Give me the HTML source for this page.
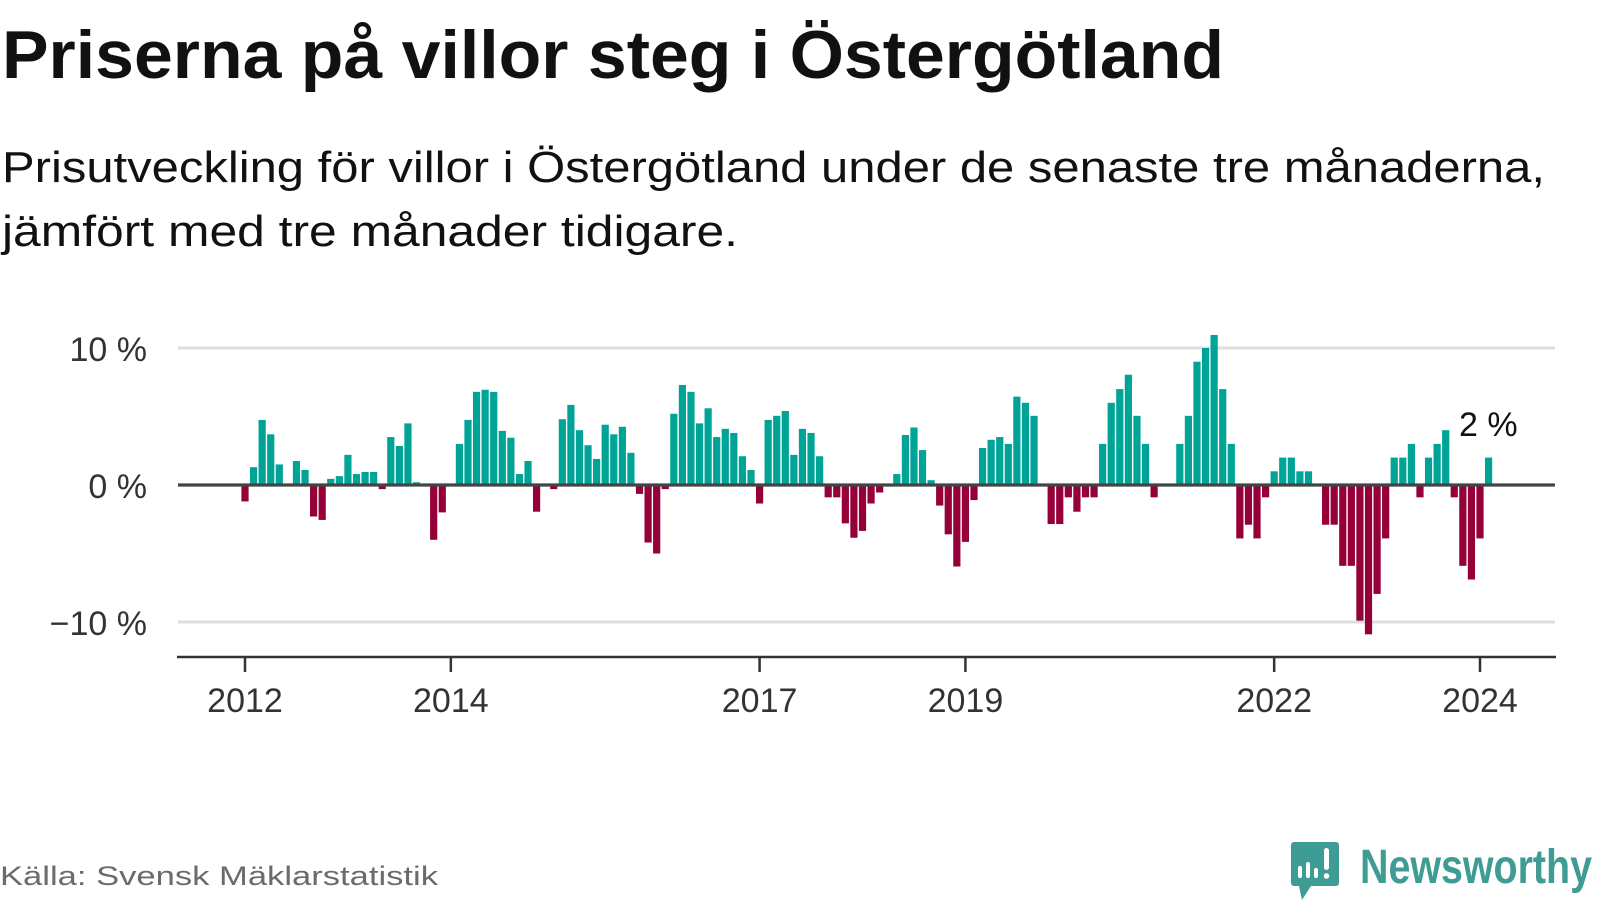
<!DOCTYPE html>
<html><head><meta charset="utf-8"><style>
html,body{margin:0;padding:0;background:#fff;}
svg{display:block;font-family:"Liberation Sans",sans-serif;}
</style></head><body>
<svg id="chart" width="1600" height="900" viewBox="0 0 1600 900">
<text x="2" y="78" font-size="68" font-weight="bold" fill="#111" textLength="1222" lengthAdjust="spacingAndGlyphs">Priserna på villor steg i Östergötland</text>
<text x="2" y="182" font-size="44" fill="#111" textLength="1543" lengthAdjust="spacingAndGlyphs">Prisutveckling för villor i Östergötland under de senaste tre månaderna,</text>
<text x="2" y="246" font-size="44" fill="#111" textLength="736" lengthAdjust="spacingAndGlyphs">jämfört med tre månader tidigare.</text>
<g id="grid"></g>
<g id="yticks"></g>
<g id="bars"></g>
<line x1="178" x2="1555" y1="485" y2="485" stroke="#444" stroke-width="3.3"/>
<line x1="177" x2="1556" y1="657" y2="657" stroke="#333" stroke-width="2.5"/>
<g id="xticks"></g>
<text x="1459" y="436" font-size="34" fill="#111">2 %</text>
<text x="0" y="885" font-size="27" fill="#6b6b6b" textLength="438" lengthAdjust="spacingAndGlyphs">Källa: Svensk Mäklarstatistik</text>
<g>
<path d="M1294 842 h42 a3 3 0 0 1 3 3 v38 a3 3 0 0 1 -3 3 h-25 l-9 14 l-3 -14 h-5 a3 3 0 0 1 -3 -3 v-38 a3 3 0 0 1 3 -3z" fill="#3f9c94"/>
<rect x="1298" y="866" width="4" height="12" rx="2" fill="#fff"/>
<rect x="1306" y="862" width="4" height="16" rx="2" fill="#fff"/>
<rect x="1314" y="868" width="4" height="10" rx="2" fill="#fff"/>
<rect x="1324" y="848" width="5" height="22" rx="2.5" fill="#fff"/>
<circle cx="1326.5" cy="876" r="2.8" fill="#fff"/>
<text x="1360" y="883" font-size="48" font-weight="bold" fill="#3f9c94" textLength="232" lengthAdjust="spacingAndGlyphs">Newsworthy</text>
</g>
</svg>
<script>
const values = [-1.2,1.3,4.75,3.7,1.5,0,1.75,1.1,-2.3,-2.55,0.45,0.65,
2.2,0.8,0.95,0.95,-0.3,3.5,2.85,4.5,0.2,0,-4.0,-2.0,
0,3.0,4.75,6.8,6.95,6.8,3.95,3.45,0.8,1.75,-1.95,0,
-0.3,4.8,5.85,4.0,2.9,1.9,4.4,3.7,4.25,2.35,-0.65,-4.2,
-5.0,-0.3,5.2,7.3,6.8,4.5,5.6,3.5,4.1,3.8,2.1,1.1,
-1.35,4.75,5.05,5.4,2.2,4.1,3.8,2.1,-0.9,-0.9,-2.8,-3.85,
-3.35,-1.35,-0.55,0,0.8,3.65,4.2,2.55,0.35,-1.5,-3.6,-5.95,
-4.15,-1.1,2.7,3.3,3.5,3.0,6.45,6.0,5.05,0,-2.85,-2.85,
-0.9,-1.95,-0.9,-0.9,3.0,6.0,7.0,8.05,5.05,3.0,-0.9,0,
0,3.0,5.05,9.0,10.0,10.95,7.0,3.0,-3.9,-2.9,-3.9,-0.9,
1.0,2.0,2.0,1.0,1.0,0,-2.9,-2.9,-5.9,-5.9,-9.9,-10.9,
-7.95,-3.9,2.0,2.0,3.0,-0.9,2.0,3.0,4.0,-0.9,-5.9,-6.9,
-3.9,2.0];
const startYear = 2012;
const xTickYears = [2012,2014,2017,2019,2022,2024];
const yTickValues = [10,0,-10];
const yTickLabels = ["10 %","0 %","\u221210 %"];

const NS = "http://www.w3.org/2000/svg";
const x0 = 245, monthW = (1480-245)/144;
const xScale = m => x0 + m*monthW;
const yScale = v => 485 - v*13.7;
function mk(tag, attrs, parent){const e=document.createElementNS(NS,tag);for(const k in attrs)e.setAttribute(k,attrs[k]);parent.appendChild(e);return e;}

const grid=document.getElementById('grid'), yt=document.getElementById('yticks');
yTickValues.forEach((v,i)=>{
  if(v!==0){const g=mk('line',{x1:178,x2:1555,y1:yScale(v),y2:yScale(v),stroke:'#dedede','stroke-width':3},grid);
  
  }
  const t=mk('text',{x:147,y:yScale(v)+13,'text-anchor':'end','font-size':34,fill:'#333'},yt);
  t.textContent=yTickLabels[i];
  
  
});
const xt=document.getElementById('xticks');
xTickYears.forEach(y=>{
  const x=xScale((y-startYear)*12);
  const l=mk('line',{x1:x,x2:x,y1:657,y2:672,stroke:'#333','stroke-width':2.5},xt);
  
  
  const t=mk('text',{x:x,y:712,'text-anchor':'middle','font-size':34,fill:'#333'},xt);
  t.textContent=String(y);
  
  
});
const bars=document.getElementById('bars');
values.forEach((v,i)=>{
  if(v===0)return;
  const x=xScale(i)-3.6, y0=yScale(0), y1=yScale(v);
  const r=mk('rect',{x:x,width:7.2,y:Math.min(y0,y1),height:Math.abs(y1-y0),fill:v>0?'#00a497':'#960039'},bars);
  
  
});
</script>
</body></html>
